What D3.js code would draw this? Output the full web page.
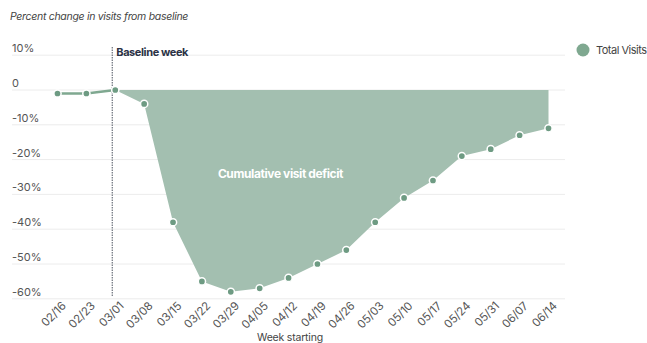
<!DOCTYPE html>
<html>
<head>
<meta charset="utf-8">
<script src="https://cdn.jsdelivr.net/npm/d3@7"></script>
<style>
  html, body { margin: 0; padding: 0; background: #fff; }
  svg { display: block; font-family: Inter, "Noto Sans", sans-serif; }
</style>
</head>
<body>
<svg id="chart" width="647" height="343"></svg>
<script>
// Weekly change in total visits, relative to the week of 03/01
const weeks = ["02/16", "02/23", "03/01", "03/08", "03/15", "03/22", "03/29", "04/05", "04/12",
               "04/19", "04/26", "05/03", "05/10", "05/17", "05/24", "05/31", "06/07", "06/14"];
const totalVisits = [-1, -1, 0, -4, -38, -55, -58, -57, -54, -50, -46, -38, -31, -26, -19, -17, -13, -11];
const yTicks = [10, 0, -10, -20, -30, -40, -50, -60];
const baselineWeek = "03/01";

const svg = d3.select("#chart");

const x = d3.scalePoint().domain(weeks).range([57.5, 548.5]);
const y = d3.scaleLinear().domain([-60, 10]).range([298.8, 55.2]);

const areaColor = "#a3bfb0";
const dotColor = "#6e9b83";
const lineColor = "#7fa890";

// Title
svg.append("text")
  .attr("x", 10).attr("y", 20)
  .attr("font-size", 10.5).attr("font-style", "italic").attr("fill", "#444")
  .attr("letter-spacing", -0.3)
  .text("Percent change in visits from baseline");

// Horizontal grid and y labels
const grid = svg.append("g");
grid.selectAll("line").data(yTicks).join("line")
  .attr("x1", 12).attr("x2", 565)
  .attr("y1", d => y(d)).attr("y2", d => y(d))
  .attr("stroke", "#ececec").attr("stroke-width", 1);
grid.selectAll("text").data(yTicks).join("text")
  .attr("x", 12).attr("y", d => y(d) - 3)
  .attr("font-size", 11).attr("fill", "#555")
  .text(d => d === 0 ? "0" : d + "%");

// Points and series data
const data = weeks.map((w, i) => ({ week: w, value: totalVisits[i] }));
const baseIdx = weeks.indexOf(baselineWeek);

// Shaded deficit from the baseline week onwards
const area = d3.area()
  .x(d => x(d.week))
  .y0(y(0))
  .y1(d => y(d.value));
svg.append("path")
  .datum(data.slice(baseIdx))
  .attr("fill", areaColor)
  .attr("d", area);

// Pre-baseline weeks as a line
const line = d3.line().x(d => x(d.week)).y(d => y(d.value));
svg.append("path")
  .datum(data.slice(0, baseIdx + 1))
  .attr("fill", "none")
  .attr("stroke", lineColor)
  .attr("stroke-width", 2.5)
  .attr("d", line);

// Baseline week marker
const bx = x(baselineWeek) - 3;
svg.append("line")
  .attr("x1", bx).attr("x2", bx)
  .attr("y1", 47).attr("y2", 297)
  .attr("stroke", "#6a6f7a").attr("stroke-width", 1.2)
  .attr("stroke-dasharray", "1.5,1");
svg.append("text")
  .attr("x", bx + 4).attr("y", 56)
  .attr("font-size", 11).attr("font-weight", 700).attr("fill", "#2b3245")
  .attr("letter-spacing", -0.4)
  .text("Baseline week");

// Label inside the area
svg.append("text")
  .attr("x", 280.5).attr("y", 178)
  .attr("text-anchor", "middle")
  .attr("font-size", 12).attr("font-weight", 700).attr("fill", "#fff")
  .attr("letter-spacing", -0.4)
  .text("Cumulative visit deficit");

// Dots
svg.append("g").selectAll("circle").data(data).join("circle")
  .attr("cx", d => x(d.week)).attr("cy", d => y(d.value))
  .attr("r", 3.6)
  .attr("fill", dotColor)
  .attr("stroke", "#fff").attr("stroke-width", 1.5);

// X axis labels
const xAxis = d3.axisBottom(x).tickSize(0).tickPadding(0);
const gx = svg.append("g").attr("transform", "translate(0,301)").call(xAxis);
gx.select(".domain").remove();
gx.selectAll("text")
  .attr("font-size", 11.5).attr("fill", "#555")
  .attr("font-family", "Inter, 'Noto Sans', sans-serif")
  .attr("text-anchor", "end")
  .attr("dy", "0.7em")
  .attr("letter-spacing", -0.2)
  .attr("transform", "translate(3,0) rotate(-45)");

svg.append("text")
  .attr("x", 290).attr("y", 341)
  .attr("text-anchor", "middle")
  .attr("font-size", 10.5).attr("fill", "#444")
  .attr("letter-spacing", -0.2)
  .text("Week starting");

// Legend
svg.append("circle").attr("cx", 583).attr("cy", 50).attr("r", 6.5).attr("fill", lineColor);
svg.append("text")
  .attr("x", 596).attr("y", 54)
  .attr("font-size", 11).attr("fill", "#444")
  .attr("letter-spacing", -0.5)
  .text("Total Visits");
</script>
</body>
</html>
